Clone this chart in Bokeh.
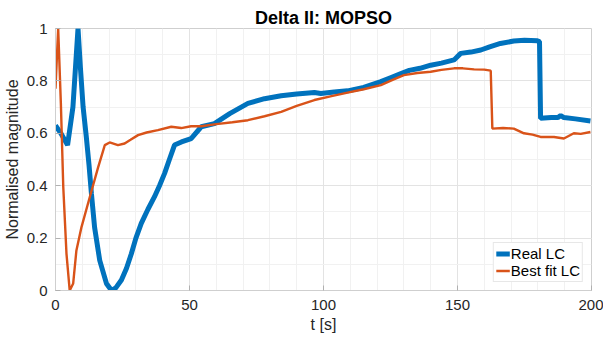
from bokeh.plotting import figure
from bokeh.models import FixedTicker, Legend, LegendItem, Range1d
from bokeh.embed import file_html
from bokeh.resources import INLINE

# Real LC (blue)
real_t = [0, 2, 4.5, 6.5, 8.4, 9.3, 10.3, 11.5, 12.5, 13.4, 14.6, 16.5, 19, 20.9, 22.5, 24.6, 26.5,
          28.3, 30, 32, 34.5, 36.9, 38.8, 40.7, 42.5, 44.4, 47, 50.6, 54.4, 59.3, 65, 71.8, 78, 84.2,
          90, 96.6, 99, 104, 109, 115, 121.4, 125, 128.9, 132, 136, 140, 144, 148.7, 151.2, 155,
          158.7, 162, 166, 171, 175, 179.8, 180.6, 181, 185, 187.5, 188.5, 189.7, 194, 199.6]
real_v = [0.63, 0.6, 0.555, 0.7, 1.0, 0.85, 0.70, 0.586, 0.48, 0.37, 0.24, 0.115, 0.027, 0.0, 0.01,
          0.04, 0.085, 0.14, 0.2, 0.256, 0.31, 0.357, 0.40, 0.447, 0.5, 0.555, 0.567, 0.58, 0.625,
          0.637, 0.675, 0.714, 0.732, 0.743, 0.75, 0.756, 0.752, 0.758, 0.762, 0.775, 0.797, 0.812,
          0.828, 0.84, 0.848, 0.86, 0.868, 0.88, 0.905, 0.91, 0.918, 0.93, 0.943, 0.952, 0.955,
          0.953, 0.95, 0.657, 0.66, 0.66, 0.668, 0.66, 0.655, 0.647]

# Best fit LC (orange)
fit_t = [0, 1, 2, 2.9, 4.1, 5.3, 6.6, 7.8, 9.7, 12.8, 15.9, 18.4, 20.2, 23.3, 25.8, 28, 30.8, 34,
         38.2, 43.2, 46.9, 50.6, 54.4, 60, 66, 71.8, 78, 84.2, 90, 96.6, 103, 109, 115, 121.4, 126,
         130, 135, 140, 144, 148.7, 152, 156.2, 160, 162.4, 163, 167, 171, 174.8, 178, 181, 186,
         189.7, 193.4, 196, 199.6]
fit_v = [0.77, 1.0, 0.715, 0.395, 0.14, 0.0, 0.027, 0.153, 0.242, 0.357, 0.47, 0.555, 0.565, 0.555,
         0.561, 0.575, 0.593, 0.603, 0.612, 0.625, 0.62, 0.627, 0.627, 0.635, 0.642, 0.65, 0.665,
         0.682, 0.705, 0.727, 0.742, 0.755, 0.768, 0.784, 0.805, 0.822, 0.83, 0.835, 0.842, 0.848,
         0.848, 0.844, 0.843, 0.839, 0.618, 0.62, 0.618, 0.6, 0.595, 0.586, 0.586, 0.58, 0.6, 0.598,
         0.605]

x_ticks = [0, 50, 100, 150, 200]
y_ticks = [0, 0.2, 0.4, 0.6, 0.8, 1]
y_tick_labels = {0: "0", 0.2: "0.2", 0.4: "0.4", 0.6: "0.6", 0.8: "0.8", 1: "1"}

FONT = "Liberation Sans"
BLUE = "#0072BD"
ORANGE = "#D95319"
TXT = "#262626"
AX = "#cfcfcf"

p = figure(width=603, height=338, output_backend="svg", toolbar_location=None,
           x_range=Range1d(0, 200), y_range=Range1d(0, 1),
           min_border_left=54, min_border_right=12, min_border_top=28, min_border_bottom=48)

p.title.text = "Delta II: MOPSO"
p.title.align = "center"
p.title.text_font = FONT
p.title.text_font_size = "18px"
p.title.text_font_style = "bold"
p.title.text_color = "black"
p.title.offset = 0
p.title.standoff = 2

p.outline_line_color = AX
p.outline_line_width = 1
p.outline_line_alpha = 1

for ax in (p.xaxis[0], p.yaxis[0]):
    ax.axis_line_color = AX
    ax.major_tick_line_color = "#b0b0b0"
    ax.minor_tick_line_color = None
    ax.major_tick_in = 5
    ax.major_tick_out = 0
    ax.major_label_text_font = FONT
    ax.major_label_text_font_size = "15px"
    ax.major_label_text_color = TXT
    ax.axis_label_text_font = FONT
    ax.axis_label_text_font_size = "16px"
    ax.axis_label_text_font_style = "normal"
    ax.axis_label_text_color = TXT

p.xaxis.ticker = FixedTicker(ticks=x_ticks, minor_ticks=list(range(0, 201, 10)))
p.yaxis.ticker = FixedTicker(ticks=y_ticks, minor_ticks=[i / 10 for i in range(11)])
p.yaxis.major_label_overrides = y_tick_labels
p.xaxis.axis_label = "t [s]"
p.yaxis.axis_label = "Normalised magnitude"
p.xaxis.major_label_standoff = 5
p.xaxis.axis_label_standoff = 3
p.yaxis.major_label_standoff = 4
p.yaxis.axis_label_standoff = 3

p.xgrid.grid_line_color = "#e3e3e3"
p.ygrid.grid_line_color = "#e3e3e3"
p.xgrid.minor_grid_line_color = "#f1f1f1"
p.ygrid.minor_grid_line_color = "#f1f1f1"

r1 = p.line(real_t, real_v, line_color=BLUE, line_width=5)
r2 = p.line(fit_t, fit_v, line_color=ORANGE, line_width=2.4)

legend = Legend(items=[LegendItem(label="Real LC", renderers=[r1]),
                       LegendItem(label="Best fit LC", renderers=[r2])],
                location="bottom_right")
legend.margin = 8
legend.padding = 2
legend.spacing = 0
legend.glyph_width = 14
legend.glyph_height = 15
legend.label_standoff = 1
legend.label_height = 15
legend.label_text_font = FONT
legend.label_text_font_size = "15px"
legend.label_text_line_height = 1.0
legend.label_text_color = "black"
legend.border_line_color = "#d0d0d0"
legend.background_fill_color = "white"
legend.background_fill_alpha = 1
p.add_layout(legend)

open("out.html", "w").write(file_html(p, INLINE))
